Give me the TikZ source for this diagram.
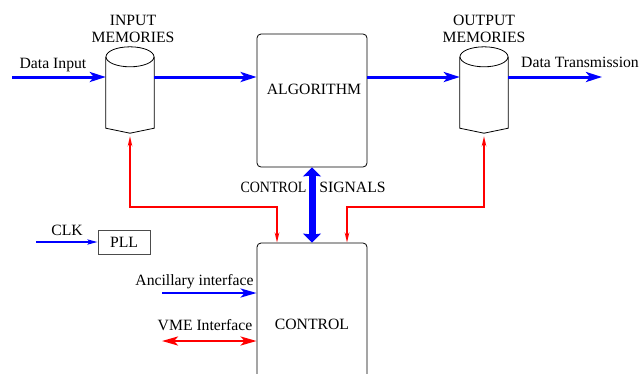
\documentclass[tikz,border=0pt]{standalone}
\usepackage{fontspec}
\setmainfont{Liberation Serif}
\usetikzlibrary{arrows.meta}
\definecolor{pblue}{RGB}{0,0,255}
\definecolor{pred}{RGB}{255,0,0}
\tikzset{
  memnode/.style={draw=none,minimum width=48pt,minimum height=86pt,inner sep=0pt},
  blockbox/.style={draw,rounded corners=4pt,minimum width=110pt,inner sep=0pt,line width=0.8pt},
  lbl/.style={inner sep=0pt,font=\fontsize{15.7}{17}\selectfont},
  dataflow/.style={pblue,line width=3pt,-{Stealth[length=16pt,width=10pt,inset=4pt]}},
  ctrlflow/.style={pred,line width=2pt,-{Stealth[length=10pt,width=4.5pt]}},
}
\newcommand{\cylshape}[1]{%
  \draw[line width=0.8pt] ([yshift=-10pt]#1.north west) -- ([yshift=5pt]#1.south west) -- (#1.south) -- ([yshift=5pt]#1.south east) -- ([yshift=-10pt]#1.north east);
  \draw[line width=0.8pt] ([yshift=-10pt]#1.north) ellipse [x radius=24pt, y radius=10pt];}
\begin{document}
\begin{tikzpicture}[x=1pt,y=-1pt]
\useasboundingbox (0,0) rectangle (639,373);
% memories
\node[memnode] (inmem) at (130,90) {};
\node[memnode] (outmem) at (484,90) {};
\cylshape{inmem}
\cylshape{outmem}
\node[lbl,align=center] (inlbl) at (133,29) {INPUT\\MEMORIES};
\node[lbl,align=center] (outlbl) at (484,29) {OUTPUT\\MEMORIES};
% blocks
\node[blockbox,minimum height=133pt] (alg) at (312,100.5) {};
\node[lbl] (algtxt) at (314,89) {ALGORITHM};
\node[blockbox,minimum height=160pt] (ctrl) at (312,323) {};
\node[lbl] (ctrltxt) at (312,324) {CONTROL};
\node[draw=black!70,line width=0.8pt,minimum width=52pt,minimum height=24pt,inner sep=0pt,font=\fontsize{15.7}{17}\selectfont] (pll) at (124,242) {PLL};
% coordinates
\coordinate (din) at (12,77);
\coordinate (dout) at (602,77);
\coordinate (clkin) at (36,242);
\coordinate (ancin) at (162,293);
\coordinate (vmein) at (162,341);
% data flow
\draw[dataflow] (din) -- ([yshift=13pt]inmem.west);
\draw[dataflow] ([yshift=13pt]inmem.east) -- (alg.west |- 0,77);
\draw[dataflow] (alg.east |- 0,77) -- ([yshift=13pt]outmem.west);
\draw[dataflow] ([yshift=13pt]outmem.east) -- (dout);
\node[lbl] (dinlbl) at (53,65) {Data Input};
\node[lbl] (doutlbl) at (580,62) {Data Transmission};
% control signals
\draw[pblue,line width=7pt,{Stealth[length=9pt,width=18pt,inset=1pt]}-{Stealth[length=9pt,width=18pt,inset=1pt]}] (alg.south) -- (ctrl.north);
\node[lbl] (cslbl1) at (273.5,187) {\scalebox{0.89}[1]{CONTROL}};
\node[lbl] (cslbl2) at (352.5,187) {SIGNALS};
% red links
\draw[ctrlflow] (277,207) -| ([yshift=-3pt]inmem.south);
\draw[ctrlflow] (130,207) -| (ctrl.north -| 277,0);
\draw[ctrlflow] (347,207) -| ([yshift=-3pt]outmem.south);
\draw[ctrlflow] (484,207) -| (ctrl.north -| 347,0);
% clk
\draw[pblue,line width=2pt,-{Stealth[length=10pt,width=5pt,inset=2pt]}] (clkin) -- (pll.west);
\node[lbl] (clklbl) at (67,230) {CLK};
% interfaces
\draw[pblue,line width=2.5pt,-{Stealth[length=16pt,width=9pt,inset=4pt]}] (ancin) -- (ctrl.west |- ancin);
\node[lbl] (anclbl) at (194.5,282) {Ancillary interface};
\draw[pred,line width=2.5pt,{Stealth[length=16pt,width=9pt,inset=4pt]}-{Stealth[length=16pt,width=9pt,inset=4pt]}] (vmein) -- (ctrl.west |- vmein);
\node[lbl] (vmelbl) at (205,325) {VME Interface};
\end{tikzpicture}
\end{document}
